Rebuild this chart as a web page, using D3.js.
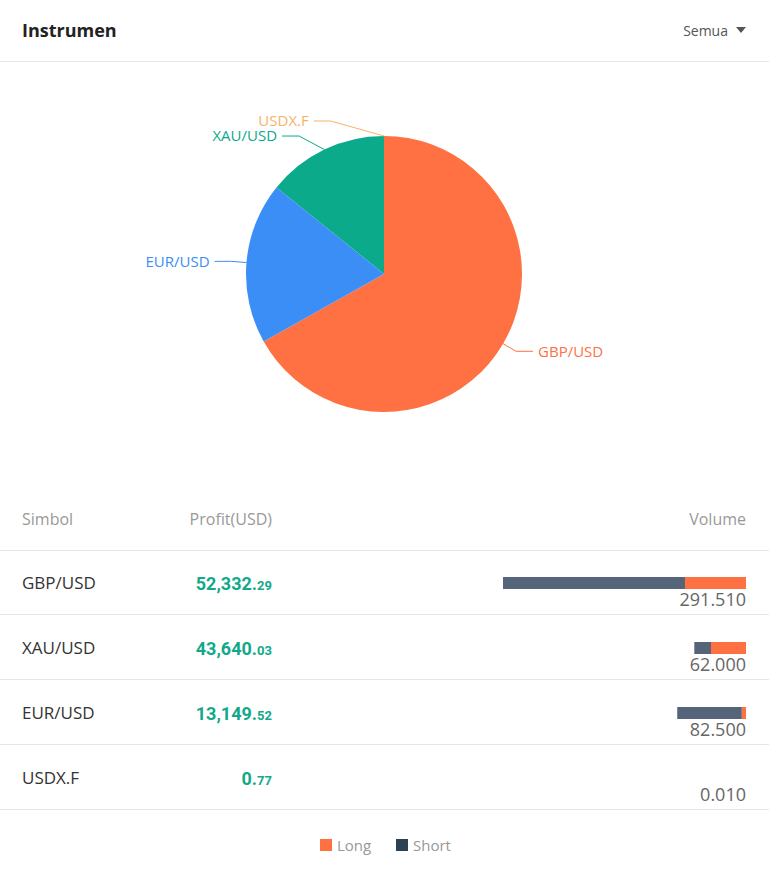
<!DOCTYPE html>
<html><head><meta charset="utf-8">
<script src="https://cdn.jsdelivr.net/npm/d3@7"></script>
<style>
html,body{margin:0;padding:0;background:#fff;}
svg{display:block;font-family:"Open Sans","Noto Sans",sans-serif;}
</style></head>
<body><svg id="chart" width="769" height="870"></svg>
<script>
// ---- data ----
const symbols   = ["GBP/USD", "XAU/USD", "EUR/USD", "USDX.F"];
const profits   = [52332.29, 43640.03, 13149.52, 0.77];
const longVol   = [73.21, 42.0, 5.0, 0.01];
const shortVol  = [218.30, 20.0, 77.5, 0.0];
const volumes   = [291.51, 62.0, 82.5, 0.01];
const headers   = ["Simbol", "Profit(USD)", "Volume"];
const legendKeys = ["Long", "Short"];
const sliceColors = ["#ff7142", "#0aaa8a", "#3a8ef6", "#f7b26a"]; // same order as symbols

// ---- setup ----
const W = 769, H = 870;
const svg = d3.select("#chart");
svg.append("rect").attr("width", W).attr("height", H).attr("fill", "#fff");

// header
svg.append("text").attr("x", 22).attr("y", 37).text("Instrumen")
  .attr("font-size", 18).attr("font-weight", 700).attr("fill", "#222");
svg.append("text").attr("x", 728).attr("y", 36).attr("text-anchor", "end").text("Semua")
  .attr("font-size", 14).attr("fill", "#555");
svg.append("path").attr("d", "M736,27L746,27L741,33Z").attr("fill", "#555");
svg.append("line").attr("x1", 0).attr("x2", W).attr("y1", 61.5).attr("y2", 61.5)
  .attr("stroke", "#e6e6e6");

// ---- pie ----
const cx = 384, cy = 274, r = 138;
const colorScale = d3.scaleOrdinal().domain(symbols).range(sliceColors);
const pieData = symbols.map((s, i) => ({ name: s, value: volumes[i] }));
const pie = d3.pie().value(d => d.value); // default: sorted descending
const arcs = pie(pieData);
const arcGen = d3.arc().innerRadius(0).outerRadius(r);
const g = svg.append("g").attr("transform", `translate(${cx},${cy})`);
g.selectAll("path.slice").data(arcs).join("path").attr("class", "slice")
  .attr("d", arcGen).attr("fill", d => colorScale(d.data.name));

// label layout
const L1 = 15, L2 = 17, gap = 5, Rx = 162;
const labels = arcs.map(d => {
  const a = (d.startAngle + d.endAngle) / 2;
  const side = Math.sin(a) < 0 ? -1 : 1;
  return {
    d, side,
    ax: cx + r * Math.sin(a), ay: cy - r * Math.cos(a),
    ex: cx + (r + L1) * Math.sin(a), ey: cy - (r + L1) * Math.cos(a)
  };
});
[-1, 1].forEach(side => {
  const grp = labels.filter(l => l.side === side).sort((p, q) => p.ey - q.ey);
  for (let i = 1; i < grp.length; i++) {
    if (grp[i].ey - grp[i - 1].ey < 18) {
      grp[i].ey = Math.max(grp[i].ey, grp[i - 1].ey + 15);
      [grp[i], grp[i - 1]].forEach(l => {
        const dy = l.ey - cy;
        l.ex = cx + side * Math.sqrt(Math.max(Rx * Rx - dy * dy, 0));
      });
    }
  }
});
labels.forEach(l => {
  const c = colorScale(l.d.data.name);
  const endX = l.ex + l.side * L2;
  svg.append("path")
    .attr("d", `M${l.ax},${l.ay}L${l.ex},${l.ey}L${endX},${l.ey}`)
    .attr("fill", "none").attr("stroke", c).attr("stroke-width", 1);
  svg.append("text").attr("x", endX + l.side * gap).attr("y", l.ey)
    .attr("dy", "0.35em")
    .attr("text-anchor", l.side < 0 ? "end" : "start")
    .attr("font-size", 15).attr("fill", c).text(l.d.data.name);
});

// ---- table ----
const tableTop = 550, rowH = 65;
const hdrY = 525;
svg.append("text").attr("x", 22).attr("y", hdrY).text(headers[0])
  .attr("font-size", 16).attr("fill", "#999");
svg.append("text").attr("x", 272).attr("y", hdrY).attr("text-anchor", "end").text(headers[1])
  .attr("font-size", 16).attr("fill", "#999");
svg.append("text").attr("x", 746).attr("y", hdrY).attr("text-anchor", "end").text(headers[2])
  .attr("font-size", 16).attr("fill", "#999");

const rowScale = d3.scaleBand().domain(symbols).range([tableTop, tableTop + rowH * symbols.length]);
const barMax = d3.max(symbols, (s, i) => longVol[i] + shortVol[i]);
const xVol = d3.scaleLinear().domain([0, barMax]).range([0, 243]);
const barRight = 746;

svg.append("line").attr("x1", 0).attr("x2", W).attr("y1", tableTop + 0.5).attr("y2", tableTop + 0.5)
  .attr("stroke", "#e6e6e6");

symbols.forEach((s, i) => {
  const y0 = rowScale(s);
  const row = svg.append("g");
  row.append("line").attr("x1", 0).attr("x2", W)
    .attr("y1", y0 + rowScale.bandwidth() - 0.5).attr("y2", y0 + rowScale.bandwidth() - 0.5)
    .attr("stroke", "#e6e6e6");
  row.append("text").attr("x", 22).attr("y", y0 + 39).text(s)
    .attr("font-size", 17).attr("fill", "#333");
  // profit
  const parts = d3.format(",.2f")(profits[i]).split(".");
  const pt = row.append("text").attr("x", 272).attr("y", y0 + 40).attr("text-anchor", "end")
    .attr("font-family", "Roboto, 'Open Sans', sans-serif").attr("font-weight", 700).attr("fill", "#12a98a");
  pt.append("tspan").attr("font-size", 18).text(parts[0] + ".");
  pt.append("tspan").attr("font-size", 13).text(parts[1]);
  // volume bars
  const total = longVol[i] + shortVol[i];
  const wTot = xVol(total), wLong = xVol(longVol[i]);
  const by = y0 + 27;
  if (shortVol[i] > 0) {
    row.append("rect").attr("x", barRight - wTot).attr("y", by)
      .attr("width", wTot - wLong).attr("height", 12).attr("fill", "#566479");
  }
  if (wLong >= 0.5) {
    row.append("rect").attr("x", barRight - wLong).attr("y", by)
      .attr("width", wLong).attr("height", 12).attr("fill", "#ff7142");
  }
  row.append("text").attr("x", barRight).attr("y", y0 + 56).attr("text-anchor", "end")
    .text(d3.format(".3f")(volumes[i])).attr("font-size", 18).attr("fill", "#666");
});

// ---- legend ----
const legendColors = ["#ff7142", "#2c4154"];
const legX = d3.scalePoint().domain(legendKeys).range([320, 396]);
legendKeys.forEach((k, i) => {
  svg.append("rect").attr("x", legX(k)).attr("y", 839).attr("width", 12).attr("height", 12)
    .attr("fill", legendColors[i]);
  svg.append("text").attr("x", legX(k) + 17).attr("y", 851).text(k)
    .attr("font-size", 15).attr("fill", "#999");
});
</script></body></html>
